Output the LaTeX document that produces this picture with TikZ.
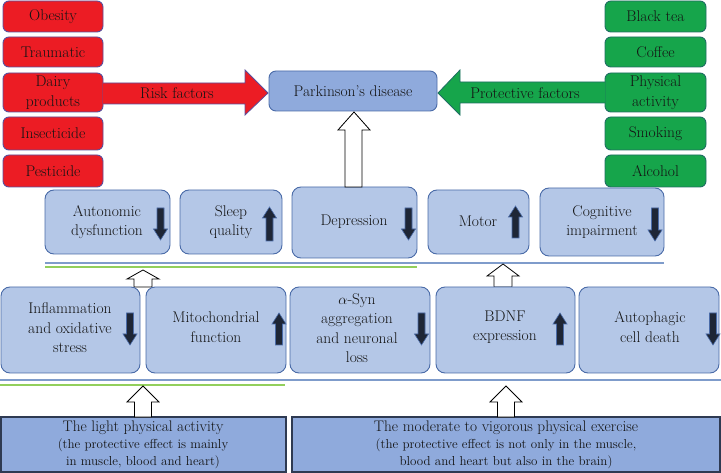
\documentclass[tikz,border=0pt]{standalone}
\usepackage{fontspec}
\usetikzlibrary{calc}
\definecolor{riskred}{HTML}{EC1C24}
\definecolor{riskedge}{HTML}{5A4F9C}
\definecolor{protgreen}{HTML}{16A54B}
\definecolor{protedge}{HTML}{1F6E63}
\definecolor{lightblue}{HTML}{B4C7E7}
\definecolor{midblue}{HTML}{8FAADC}
\definecolor{blueedge}{HTML}{4A6BA8}
\definecolor{darkedge}{HTML}{2E3A52}
\definecolor{darkarrow}{HTML}{1E2636}
\definecolor{lineblue}{HTML}{7F9CCB}
\definecolor{linegreen}{HTML}{92CF5C}
\definecolor{txtcol}{HTML}{141414}
\begin{document}
\begin{tikzpicture}[x=1pt,y=-1pt,
  boxbase/.style={inner sep=0pt, line width=0.9pt},
  redbox/.style={boxbase, draw=riskedge, fill=riskred, rounded corners=6pt},
  greenbox/.style={boxbase, draw=protedge, fill=protgreen, rounded corners=6pt},
  bluebox/.style={boxbase, draw=blueedge, fill=lightblue, rounded corners=9pt},
  pdbox/.style={boxbase, draw=blueedge, fill=midblue, rounded corners=7pt},
  bottombox/.style={boxbase, draw=darkedge, fill=midblue, line width=1.1pt},
  txt/.style={inner sep=0pt, align=center, text=txtcol, font=\rmfamily\fontsize{15.5}{19.5}\selectfont},
  smalltxt/.style={txt, font=\rmfamily\fontsize{13}{17}\selectfont},
  whitearr/.style={draw=black, fill=white, line width=0.8pt, line join=miter},
  darkarr/.style={draw=blueedge, fill=darkarrow, line width=0.6pt, line join=miter},
  blueline/.style={draw=lineblue, line width=1.1pt},
  greenline/.style={draw=linegreen, line width=1.1pt}
]
\useasboundingbox (0,0) rectangle (721,473);

\newcommand\bbox[7]{\node[#6, minimum width={#4-#2}, minimum height={#5-#3}] (#1) at ({(#2+#4)/2},{(#3+#5)/2}) {#7};}
% down arrow: x, ytop, ybottom
\newcommand\dnarr[3]{\draw[darkarr] (#1-3.5,#2) -- (#1+3.5,#2) -- (#1+3.5,#3-11) -- (#1+7,#3-11) -- (#1,#3) -- (#1-7,#3-11) -- (#1-3.5,#3-11) -- cycle;}
\newcommand\uparr[3]{\draw[darkarr] (#1-3.5,#3) -- (#1+3.5,#3) -- (#1+3.5,#2+11) -- (#1+7,#2+11) -- (#1,#2) -- (#1-7,#2+11) -- (#1-3.5,#2+11) -- cycle;}

% risk factors
\bbox{obesity}{3}{1}{103}{32}{redbox}{}
\bbox{traumatic}{3}{37}{103}{67}{redbox}{}
\bbox{dairy}{3}{73}{103}{112}{redbox}{}
\bbox{insecticide}{3}{117}{103}{150}{redbox}{}
\bbox{pesticide}{3}{155}{103}{187}{redbox}{}
\node[txt] (tobesity) at (obesity) {Obesity};
\node[txt] (ttraumatic) at (traumatic) {Traumatic};
\node[txt] (tdairy) at (dairy) {Dairy\\products};
\node[txt] (tinsecticide) at (insecticide) {Insecticide};
\node[txt] (tpesticide) at (pesticide) {Pesticide};

% protective factors
\bbox{blacktea}{605}{1}{706}{32}{greenbox}{}
\bbox{coffee}{605}{37}{706}{67}{greenbox}{}
\bbox{physical}{605}{73}{706}{112}{greenbox}{}
\bbox{smoking}{605}{117}{706}{150}{greenbox}{}
\bbox{alcohol}{605}{155}{706}{187}{greenbox}{}
\node[txt] (tblacktea) at (blacktea) {Black tea};
\node[txt] (tcoffee) at (coffee) {Coffee};
\node[txt] (tphysical) at (physical) {Physical\\activity};
\node[txt] (tsmoking) at (smoking) {Smoking};
\node[txt] (talcohol) at (alcohol) {Alcohol};

% Parkinson's disease
\bbox{pd}{269}{71}{437}{111}{pdbox}{}
\node[txt] (tpd) at (pd) {Parkinson’s disease};

% block arrows
\coordinate (rs1) at (103,83);
\coordinate (rs2) at (103,104);
\coordinate (rtip) at (268,93);
\draw[draw=riskedge, fill=riskred, line width=0.8pt, line join=miter]
  (rs1) -- (245,83) -- (245,70) -- (rtip) -- (245,115) -- (245,104) -- (rs2);
\node[txt] (trisk) at (177,93) {Risk factors};
\coordinate (gs1) at (605,82);
\coordinate (gs2) at (605,103);
\coordinate (gtip) at (438,93);
\draw[draw=protedge, fill=protgreen, line width=0.8pt, line join=miter]
  (gs1) -- (460,82) -- (460,70) -- (gtip) -- (460,115) -- (460,103) -- (gs2);
\node[txt] (tprot) at (525,93) {Protective factors};

% second row
\bbox{auto}{45}{190}{170}{254}{bluebox}{}
\bbox{sleep}{180}{190}{282}{254}{bluebox}{}
\bbox{depr}{292}{187}{417}{258}{bluebox}{}
\bbox{motor}{428}{190}{529}{254}{bluebox}{}
\bbox{cogn}{540}{188}{664}{256}{bluebox}{}
\node[txt] (tauto) at (107,222) {Autonomic\\dysfunction};
\node[txt] (tsleep) at (231,222) {Sleep\\quality};
\node[txt] (tdepr) at (354,222) {Depression};
\node[txt] (tmotor) at (478,221) {Motor};
\node[txt] (tcogn) at (602,222) {Cognitive\\impairment};
\dnarr{160.5}{208}{240}
\uparr{269.5}{207}{241}
\dnarr{408.5}{208}{240}
\uparr{515.5}{206}{238}
\dnarr{655}{208}{241}

% white arrow to PD
\draw[whitearr] (345,187) -- (345,130) -- (338,130) -- (354,112) -- (370,130) -- (362,130) -- (362,187) -- cycle;

% separator lines (upper)
\draw[blueline] (45,263) -- (664,263);
\draw[greenline] (45,267) -- (417,267);

% small white arrows between rows
\draw[whitearr] (134,287) -- (134,279) -- (127,279) -- (143,270) -- (159,279) -- (152,279) -- (152,287) -- cycle;
\draw[whitearr] (494,287) -- (494,276) -- (487,276) -- (503,264) -- (519,276) -- (512,276) -- (512,287) -- cycle;

% third row
\bbox{infl}{1}{287}{140}{373}{bluebox}{}
\bbox{mito}{146}{287}{286}{373}{bluebox}{}
\bbox{asyn}{290}{287}{430}{373}{bluebox}{}
\bbox{bdnf}{436}{287}{575}{373}{bluebox}{}
\bbox{autoph}{579}{287}{719}{373}{bluebox}{}
\node[txt] (tinfl) at (70,328) {Inflammation\\and oxidative\\stress};
\node[txt] (tmito) at (216,327) {Mitochondrial\\function};
\node[txt] (tasyn) at (357,328) {$\alpha$-Syn\\aggregation\\and neuronal\\loss};
\node[txt] (tbdnf) at (505,327) {BDNF\\expression};
\node[txt] (tautoph) at (650,327) {Autophagic\\cell death};
\dnarr{130}{313}{345}
\uparr{279}{313}{345}
\dnarr{421.5}{313}{345}
\uparr{560}{313}{345}
\dnarr{713}{313}{345}

% separator lines (lower)
\draw[blueline] (0,380) -- (721,380);
\draw[greenline] (0,385) -- (285,385);

% bottom boxes
\bbox{light}{1}{417}{286}{472}{bottombox}{}
\bbox{moderate}{292}{417}{720}{472}{bottombox}{}
\node[smalltxt] (tlight) at (143,445) {{\fontsize{15.3}{17}\selectfont The light physical activity}\\(the protective effect is mainly\\in muscle, blood and heart)};
\node[smalltxt] (tmoderate) at (506,445) {{\fontsize{15.3}{17}\selectfont The moderate to vigorous physical exercise}\\(the protective effect is not only in the muscle,\\blood and heart but also in the brain)};

% arrows from bottom boxes
\draw[whitearr] (134.5,417) -- (134.5,402) -- (127,402) -- (143,386) -- (159,402) -- (151.5,402) -- (151.5,417) -- cycle;
\draw[whitearr] (497.5,417) -- (497.5,402) -- (490,402) -- (506,386) -- (522,402) -- (514.5,402) -- (514.5,417) -- cycle;
\end{tikzpicture}
\end{document}
